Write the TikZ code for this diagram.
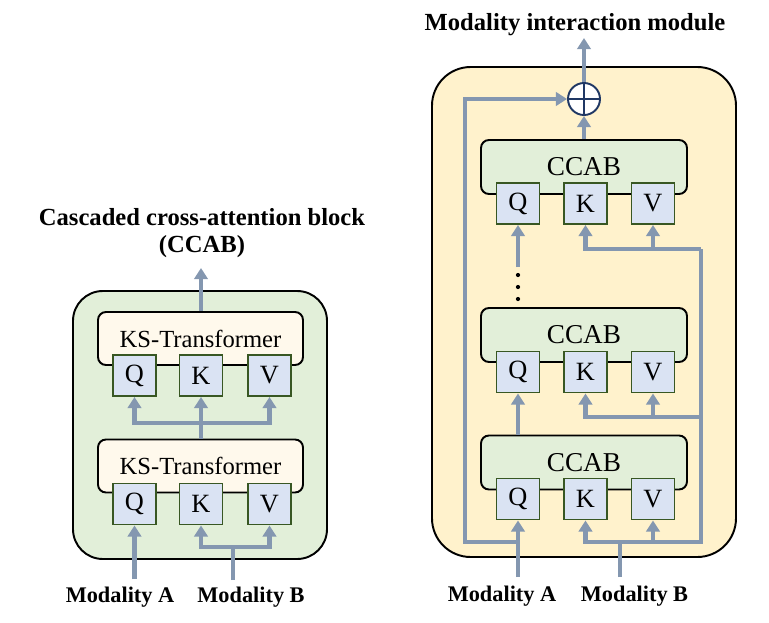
\documentclass[tikz,border=0pt]{standalone}
\usepackage{fontspec}
\setmainfont{Liberation Serif}
\usetikzlibrary{arrows.meta,positioning,calc}
\definecolor{linkgray}{HTML}{8497B0}
\definecolor{qkvfill}{HTML}{DAE3F3}
\definecolor{qkvline}{HTML}{385723}
\definecolor{blockfill}{HTML}{E2EFD9}
\definecolor{ksfill}{HTML}{FFF9EC}
\definecolor{panelfill}{HTML}{FFF2CC}
\definecolor{plusline}{HTML}{203864}

\begin{document}
\begin{tikzpicture}
[x=0.02cm, y=-0.02cm, line width=1.1pt,
link/.style={draw=linkgray, line width=2.4pt},
arr/.style={link, -{Triangle[length=6.3pt,width=7.6pt]}},
qkv/.style={rectangle, draw=qkvline, fill=qkvfill, inner sep=0pt, minimum width=0.86cm, minimum height=0.82cm, font=\fontsize{15}{15}\selectfont},
ksbox/.style={rectangle, rounded corners=4.5pt, draw, fill=ksfill, inner sep=0pt, minimum width=4.1cm, minimum height=1.06cm, font=\fontsize{14}{14}\selectfont},
ccab/.style={rectangle, rounded corners=4.5pt, draw, fill=blockfill, inner sep=0pt, minimum width=4.12cm, minimum height=1.08cm, font=\fontsize{15.5}{15.5}\selectfont},
title/.style={font=\bfseries\fontsize{14}{14}\selectfont, inner sep=0pt, anchor=base},
inlabel/.style={font=\bfseries\fontsize{12.7}{12.7}\selectfont}]

\useasboundingbox (0,0) rectangle (769,623);

% left panel: CCAB
\draw[fill=blockfill, rounded corners=17pt] (73,291) rectangle (327,559);
\node[title] (ltitle) at (202,225) {Cascaded cross-attention block};
\node[title] (ltitle2) at (202,252) {(CCAB)};

\node[ksbox] (ks1) at (200.5,338.5) {KS-Transformer};
\node[ksbox] (ks2) at (200.5,466) {KS-Transformer};
\foreach \n/\t/\x in {q/Q/134.5,k/K/201,v/V/269.5} {
  \node[qkv] (l\n1) at (\x,375.5) {\t};
  \node[qkv] (l\n2) at (\x,504) {\t};
}

\coordinate (lout) at (201,268);
\coordinate (lbr) at (201,423);
\draw[arr] (ks1.north -| lk1) -- (lout);
\draw[arr] (ks2.north -| lk2) -- (lk1.south);
\draw[arr] (lbr) -| (lq1.south);
\draw[arr] (lbr) -| (lv1.south);

\node[inlabel] (lA) at (120,597) {Modality A};
\node[inlabel] (lB) at (251,597) {Modality B};
\coordinate (linA) at (134.5,579);
\coordinate (linB) at (233,580);
\coordinate (ljoinB) at (233,547);
\draw[arr] (linA) -- (lq2.south);
\draw[link] (linB) -- (ljoinB);
\draw[arr] (ljoinB) -| (lk2.south);
\draw[arr] (ljoinB) -| (lv2.south);

% right panel: modality interaction module
\draw[fill=panelfill, rounded corners=22pt] (432,67) rectangle (736,557);
\node[title] (rtitle) at (575,30) {Modality interaction module};

\node[circle, draw=plusline, fill=white, line width=1.1pt, inner sep=0pt, minimum size=0.64cm] (plus) at (584,99) {};
\draw[plusline, line width=1.1pt] (plus.north) -- (plus.south) (plus.west) -- (plus.east);

\foreach \r/\y in {1/167,2/335,3/462.5} {
  \node[ccab] (ccab\r) at (584,\y) {CCAB};
}
\foreach \r/\y in {1/203.5,2/372,3/499} {
  \foreach \n/\t/\x in {q/Q/518,k/K/585.5,v/V/653} {
    \node[qkv] (r\n\r) at (\x,\y) {\t};
  }
}

\coordinate (rout) at (584,38);
\draw[arr] (ccab1.north) -- (plus.south);
\draw[arr] (plus.north) -- (rout);

% query chain
\draw[arr] (ccab3.north -| rq2) -- (rq2.south);
\foreach \y in {275,287,299} {
  \fill (518,\y) circle (1.2pt);
}
\coordinate (rdots) at (518,267);
\draw[arr] (rdots) -- (rq1.south);

% inputs
\node[inlabel] (rA) at (502,596) {Modality A};
\node[inlabel] (rB) at (634.5,596) {Modality B};
\coordinate (rinA) at (518,577);
\coordinate (rsplitA) at (518,542);
\coordinate (rskip) at (465,542);
\coordinate (rinB) at (620,577);
\coordinate (rjoinB) at (620,542);
\coordinate (rail3) at (701,542);
\coordinate (rail2) at (701,417);
\coordinate (rail1) at (701,249);

\draw[arr] (rinA) -- (rq3.south);
\draw[arr] (rsplitA) -- (rskip) |- (plus.west);
\draw[link] (rinB) -- (rjoinB);
\draw[arr] (rjoinB) -| (rk3.south);
\draw[arr] (rjoinB) -| (rv3.south);
\draw[link] (rjoinB) -- (rail3) -- (rail1);
\draw[arr] (rail1) -| (rk1.south);
\draw[arr] (rail1 -| rv1) -- (rv1.south);
\draw[arr] (rail2) -| (rk2.south);
\draw[arr] (rail2 -| rv2) -- (rv2.south);
\end{tikzpicture}
\end{document}
